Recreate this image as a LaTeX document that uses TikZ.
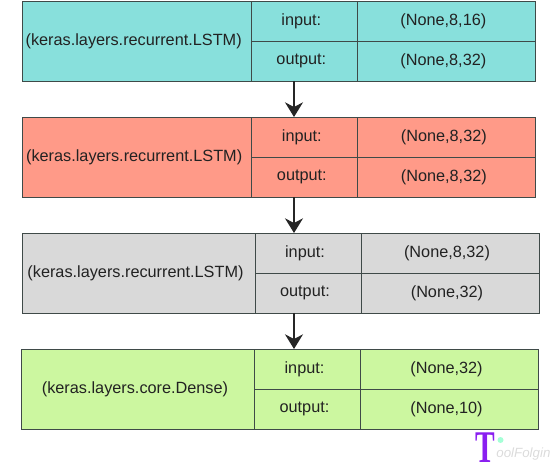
\documentclass[tikz,border=0pt]{standalone}
\usepackage{fontspec}
\setmainfont{Liberation Sans}
\usepackage{xcolor}
\definecolor{cLine}{HTML}{3F4A48}
\definecolor{cText}{HTML}{222222}
\definecolor{cTeal}{HTML}{88E0DC}
\definecolor{cSalmon}{HTML}{FF9A88}
\definecolor{cGray}{HTML}{D9D9D9}
\definecolor{cGreen}{HTML}{CCF7A0}
\definecolor{cMark}{HTML}{8A1FF0}
\newfontfamily\markfont{Liberation Serif}
\usetikzlibrary{positioning,arrows.meta}
\tikzset{
  node-cell/.style={draw=cLine,line width=0.65pt,inner sep=0pt,outer sep=0pt,
    minimum height=30pt,text=cText,font=\fontsize{12.2}{14}\selectfont,anchor=north west,
    execute at end node={\hspace{4.5pt}}},
  node-layer/.style={node-cell,minimum width=172pt,minimum height=60pt},
  node-name/.style={node-cell,minimum width=79.5pt},
  node-shape/.style={node-cell,minimum width=133.5pt},
  arrow/.style={-{Stealth[length=11pt,width=13.5pt,inset=3.5pt]},line width=1.2pt,draw=black!85},
}
\begin{document}
\begin{tikzpicture}[x=0.75pt,y=-0.75pt,node distance=0pt]
  \useasboundingbox (0,0) rectangle (560,466);
  \coordinate (axis) at (294,0);
  % first block
  \node[node-layer,fill=cTeal] (layer1) at (22,1) {(keras.layers.recurrent.LSTM)};
  \node[node-name,fill=cTeal,right=of layer1.north east,anchor=north west] (in1) {input:};
  \node[node-shape,fill=cTeal,right=of in1.north east,anchor=north west] (inval1) {(None,8,16)};
  \node[node-name,fill=cTeal,below=of in1] (out1) {output:};
  \node[node-shape,fill=cTeal,below=of inval1] (outval1) {(None,8,32)};
  % second block
  \node[node-layer,fill=cSalmon] (layer2) at (22.5,117) {(keras.layers.recurrent.LSTM)};
  \node[node-name,fill=cSalmon,right=of layer2.north east,anchor=north west] (in2) {input:};
  \node[node-shape,fill=cSalmon,right=of in2.north east,anchor=north west] (inval2) {(None,8,32)};
  \node[node-name,fill=cSalmon,below=of in2] (out2) {output:};
  \node[node-shape,fill=cSalmon,below=of inval2] (outval2) {(None,8,32)};
  % third block
  \node[node-layer,fill=cGray,minimum width=174.75pt] (layer3) at (22,233) {(keras.layers.recurrent.LSTM)};
  \node[node-name,fill=cGray,right=of layer3.north east,anchor=north west] (in3) {input:};
  \node[node-shape,fill=cGray,right=of in3.north east,anchor=north west] (inval3) {(None,8,32)};
  \node[node-name,fill=cGray,below=of in3] (out3) {output:};
  \node[node-shape,fill=cGray,below=of inval3] (outval3) {(None,32)};
  % fourth block
  \node[node-layer,fill=cGreen,minimum width=174.75pt] (layer4) at (21.5,349) {(keras.layers.core.Dense)};
  \node[node-name,fill=cGreen,right=of layer4.north east,anchor=north west] (in4) {input:};
  \node[node-shape,fill=cGreen,right=of in4.north east,anchor=north west] (inval4) {(None,32)};
  \node[node-name,fill=cGreen,below=of in4] (out4) {output:};
  \node[node-shape,fill=cGreen,below=of inval4] (outval4) {(None,10)};
  \draw[arrow] (out1.south -| axis) -- (in2.north -| axis);
  \draw[arrow] (out2.south -| axis) -- (in3.north -| axis);
  \draw[arrow] (out3.south -| axis) -- (in4.north -| axis);
  % watermark
  \node[font=\markfont\bfseries\fontsize{34}{34}\selectfont,text=cMark,inner sep=0pt,anchor=base] (mark) at (485,462) {\scalebox{0.65}[1]{T}};
  \fill[green!45!cyan!35] (500.5,440) circle (3);
  \node[font=\itshape\fontsize{10}{11}\selectfont,text=black!14,inner sep=0pt,anchor=base west] (marktext) at ([shift={(1,-5)}]mark.base east) {oolFolgin};
\end{tikzpicture}
\end{document}
